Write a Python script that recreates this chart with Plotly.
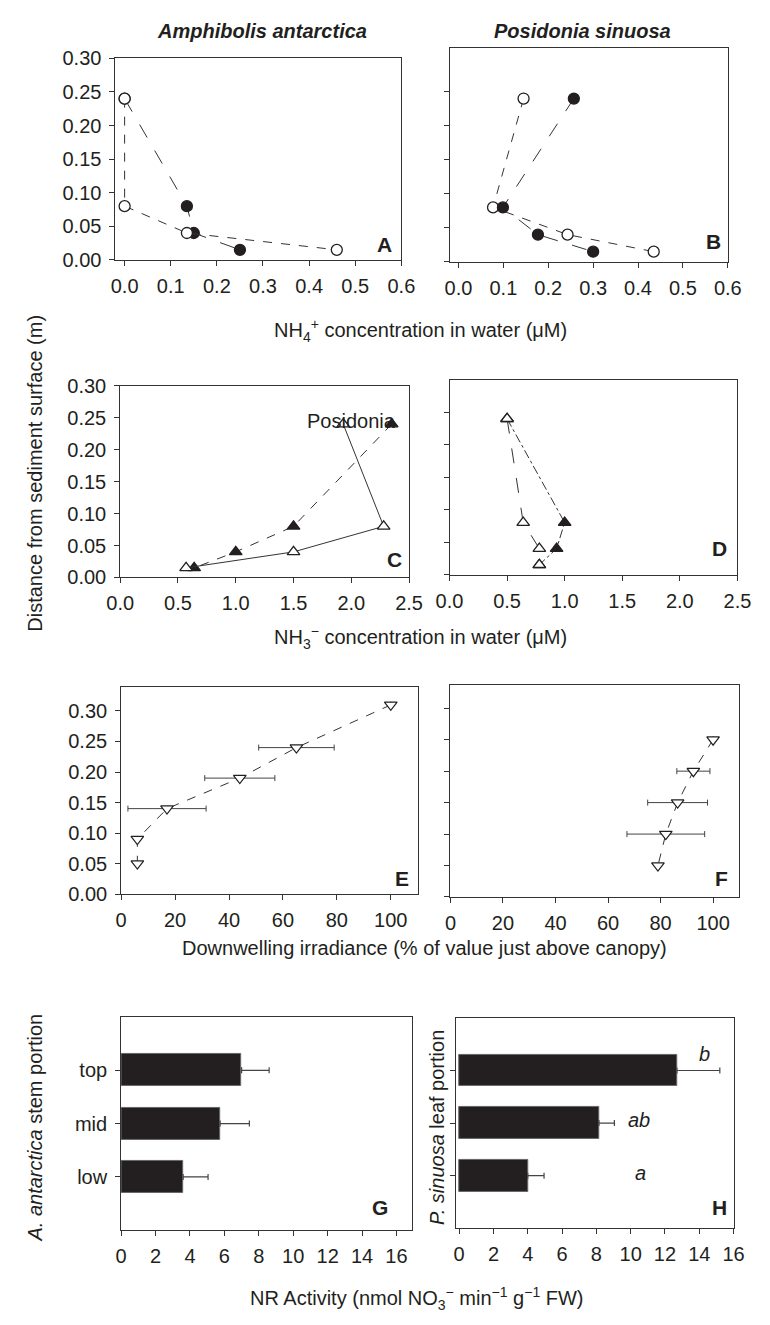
import plotly.graph_objects as go

W, H = 770, 1325
OFF = 8  # default page body margin of the written html
FW, FH = W - 2 * OFF, H - 2 * OFF

# ---------------- data ----------------
depth4 = [0.24, 0.08, 0.04, 0.015]

A_open_x = [0.0, 0.0, 0.135, 0.46]
A_fill_x = [0.0, 0.135, 0.15, 0.25]

B_open_x = [0.145, 0.077, 0.243, 0.435]
B_fill_x = [0.257, 0.099, 0.177, 0.30]

C_open_x = [1.93, 2.28, 1.5, 0.57]
C_fill_x = [2.35, 1.5, 1.0, 0.64]

D_open_x = [0.5, 0.64, 0.78, 0.78]
D_fill_x = [0.5, 1.0, 0.93, 0.78]

E_x = [100, 65, 44, 17, 6, 6]
E_y = [0.31, 0.24, 0.19, 0.14, 0.09, 0.05]
E_err = [0, 14, 13, 14.5, 0, 0]

F_x = [100, 92.5, 86.5, 82, 79]
F_y = [0.25, 0.20, 0.15, 0.10, 0.05]
F_err = [0, 6.3, 11.4, 14.8, 0]

portions = ["low", "mid", "top"]
G_val = [3.6, 5.75, 7.0]
G_err = [1.45, 1.7, 1.6]
H_val = [4.0, 8.15, 12.7]
H_err = [0.95, 0.9, 2.5]
H_letters = ["a", "ab", "b"]

# ---------------- helpers ----------------
INK = "#231f20"
LINE = "#333333"
FONT = "Liberation Sans, Arial, sans-serif"
TICKSIZE = 20
TITLESIZE = 20


def dom_x(a, b):
    return [(a - OFF) / FW, (b - OFF) / FW]


def dom_y(top, bottom):
    return [1 - (bottom - OFF) / FH, 1 - (top - OFF) / FH]


def px(x):
    return (x - OFF) / FW


def py(y):
    return 1 - (y - OFF) / FH


fig = go.Figure()


def add_line(xs, ys, ax, dash, marker_symbol, filled, size=11):
    fig.add_trace(go.Scatter(
        x=xs, y=ys, xaxis="x" + ax, yaxis="y" + ax,
        mode="lines+markers",
        line=dict(color=LINE, width=1, dash=dash),
        marker=dict(symbol=marker_symbol, size=size,
                    color=INK if filled else "white",
                    line=dict(color=INK, width=1.3)),
        showlegend=False, hoverinfo="skip"))


# Panel A
add_line(A_fill_x, depth4, "", "longdash", "circle", True)
add_line(A_open_x, depth4, "", "dash", "circle", False)
# Panel B
add_line(B_open_x, depth4, "2", "dash", "circle", False)
add_line(B_fill_x, depth4, "2", "longdash", "circle", True)
# Panel C
add_line(C_fill_x, depth4, "3", "dash", "triangle-up", True)
add_line(C_open_x, depth4, "3", "solid", "triangle-up", False)
# Panel D
add_line(D_fill_x, depth4, "4", "dashdot", "triangle-up", True)
add_line(D_open_x, depth4, "4", "longdash", "triangle-up", False)

# Panel E
fig.add_trace(go.Scatter(
    x=E_x, y=E_y, xaxis="x5", yaxis="y5", mode="lines+markers",
    line=dict(color=LINE, width=1, dash="dash"),
    marker=dict(symbol="triangle-down", size=11, color="white",
                line=dict(color=INK, width=1.2)),
    error_x=dict(type="data", array=E_err, visible=True, color="#444",
                 thickness=1, width=3),
    showlegend=False, hoverinfo="skip"))
# Panel F
fig.add_trace(go.Scatter(
    x=F_x, y=F_y, xaxis="x6", yaxis="y6", mode="lines+markers",
    line=dict(color=LINE, width=1, dash="dash"),
    marker=dict(symbol="triangle-down", size=11, color="white",
                line=dict(color=INK, width=1.2)),
    error_x=dict(type="data", array=F_err, visible=True, color="#444",
                 thickness=1, width=3),
    showlegend=False, hoverinfo="skip"))

# Panels G and H
for ax, vals, errs in (("7", G_val, G_err), ("8", H_val, H_err)):
    fig.add_trace(go.Bar(
        x=vals, y=[0, 1, 2], orientation="h", width=0.6,
        xaxis="x" + ax, yaxis="y" + ax,
        marker=dict(color=INK, line=dict(color="#666", width=1)),
        error_x=dict(type="data", symmetric=False, array=errs,
                     arrayminus=[0, 0, 0], visible=True, color="#444",
                     thickness=1.2, width=3),
        showlegend=False, hoverinfo="skip"))

# ---------------- axes ----------------
axis_common = dict(showline=True, mirror=True, linecolor=LINE, linewidth=1,
                   ticks="outside", ticklen=5, tickcolor=LINE,
                   showgrid=False, zeroline=False,
                   tickfont=dict(family=FONT, size=TICKSIZE, color=INK))

panels = {
    "": dict(xd=(105, 402), yd=(48, 253), xr=[-0.02, 0.6], yr=[0, 0.30],
             xt=[0, 0.1, 0.2, 0.3, 0.4, 0.5, 0.6], xf=".1f",
             yt=[0, 0.05, 0.1, 0.15, 0.2, 0.25, 0.3], ylab=True),
    "2": dict(xd=(452, 741), yd=(37, 255), xr=[-0.02, 0.6], yr=[0, 0.315],
              xt=[0, 0.1, 0.2, 0.3, 0.4, 0.5, 0.6], xf=".1f",
              yt=[0, 0.05, 0.1, 0.15, 0.2, 0.25], ylab=False),
    "3": dict(xd=(110, 410), yd=(381, 576), xr=[0, 2.5], yr=[0, 0.30],
              xt=[0, 0.5, 1.0, 1.5, 2.0, 2.5], xf=".1f",
              yt=[0, 0.05, 0.1, 0.15, 0.2, 0.25, 0.3], ylab=True),
    "4": dict(xd=(452, 751), yd=(375, 573), xr=[0, 2.5], yr=[0, 0.30],
              xt=[0, 0.5, 1.0, 1.5, 2.0, 2.5], xf=".1f",
              yt=[0, 0.05, 0.1, 0.15, 0.2, 0.25], ylab=False),
    "5": dict(xd=(111, 419), yd=(687, 898), xr=[0, 110], yr=[0, 0.34],
              xt=[0, 20, 40, 60, 80, 100], xf="d",
              yt=[0, 0.05, 0.1, 0.15, 0.2, 0.25, 0.3], ylab=True),
    "6": dict(xd=(453, 753), yd=(685, 901), xr=[0, 110], yr=[0, 0.3375],
              xt=[0, 20, 40, 60, 80, 100], xf="d",
              yt=[0, 0.05, 0.1, 0.15, 0.2, 0.25, 0.3], ylab=False),
}

layout = dict(width=FW, height=FH, margin=dict(l=0, r=0, t=0, b=0),
              paper_bgcolor="white", plot_bgcolor="white",
              font=dict(family=FONT, color=INK), bargap=0)

for k, p in panels.items():
    xa = dict(axis_common, domain=dom_x(*p["xd"]), range=p["xr"],
              tickvals=p["xt"], tickformat=p["xf"], anchor="y" + k,
              ticklabelstandoff=3)
    ya = dict(axis_common, domain=dom_y(*p["yd"]), range=p["yr"],
              tickvals=p["yt"], tickformat=".2f", anchor="x" + k,
              showticklabels=p["ylab"], ticklabelstandoff=4)
    layout["xaxis" + k] = xa
    layout["yaxis" + k] = ya

layout["xaxis7"] = dict(axis_common, domain=dom_x(111, 413), range=[0, 16.9],
                        tickvals=list(range(0, 17, 2)), anchor="y7",
                        ticklabelstandoff=3)
layout["yaxis7"] = dict(axis_common, domain=dom_y(1023, 1240), range=[-1, 3],
                        tickvals=[0, 1, 2], ticktext=portions, anchor="x7",
                        ticklabelstandoff=4)
layout["xaxis8"] = dict(axis_common, domain=dom_x(459, 747), range=[-0.17, 16.0],
                        tickvals=list(range(0, 17, 2)), anchor="y8",
                        ticklabelstandoff=3)
layout["yaxis8"] = dict(axis_common, domain=dom_y(1024, 1238), range=[-1, 3],
                        tickvals=[0, 1, 2], showticklabels=False, anchor="x8")

fig.update_layout(**layout)

# ---------------- annotations ----------------
ann = []


def text(x, y, s, size=TITLESIZE, angle=0, xanchor="center", yanchor="middle"):
    ann.append(dict(x=px(x), y=py(y), xref="paper", yref="paper", text=s,
                    showarrow=False, textangle=angle, xanchor=xanchor,
                    yanchor=yanchor,
                    font=dict(family=FONT, size=size, color=INK)))


text(257, 20, "<b><i>Amphibolis antarctica</i></b>", size=20)
text(590, 20, "<b><i>Posidonia sinuosa</i></b>", size=20)

text(422, 325, "NH<sub>4</sub><sup>+</sup> concentration in water (μM)")
text(422, 637, "NH<sub>3</sub><sup>−</sup> concentration in water (μM)")
text(426, 953, "Downwelling irradiance (% of value just above canopy)")
text(418, 1309, "NR Activity (nmol NO<sub>3</sub><sup>−</sup> min<sup>−1</sup> g<sup>−1</sup> FW)")

text(22, 470, "Distance from sediment surface (m)", angle=-90)
text(22, 1135, "<i>A. antarctica</i> stem portion", angle=-90)
text(439, 1135, "<i>P. sinuosa</i> leaf portion", angle=-90)

for lbl, (x, y) in {"A": (384, 237), "B": (726, 234), "C": (395, 558),
                    "D": (732, 547), "E": (403, 882), "F": (734, 882),
                    "G": (380, 1217), "H": (732, 1217)}.items():
    text(x, y, "<b>%s</b>" % lbl, size=21)

text(302, 417, "Posidonia", size=20, xanchor="left")

fig.update_layout(annotations=ann)

for v, letter, yy, xx in zip(H_val, H_letters, [0.06, 1.06, 2.32], [10.6, 10.5, 14.3]):
    fig.add_annotation(x=xx, y=yy, xref="x8", yref="y8",
                       text="<i>%s</i>" % letter, showarrow=False,
                       font=dict(family=FONT, size=20, color=INK))

fig.write_html("out.html")
